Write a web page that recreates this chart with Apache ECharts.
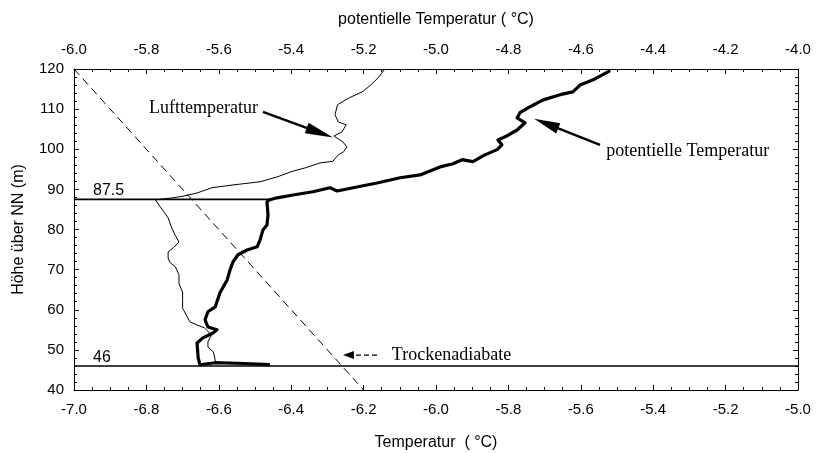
<!DOCTYPE html>
<html><head><meta charset="utf-8">
<script src="https://cdn.jsdelivr.net/npm/echarts@6/dist/echarts.min.js"></script>
<style>html,body{margin:0;padding:0;background:#fff}#c{width:816px;height:453px}</style>
</head><body><div id="c"></div>
<script>
// Lufttemperatur: [Temperatur °C (bottom axis), Höhe m]
const lufttemperatur = [[-6.61,46.5],[-6.61,47.5],[-6.615,49.5],[-6.63,50.7],[-6.63,52],[-6.62,53.7],[-6.64,55.5],[-6.66,56.2],[-6.68,57],[-6.69,58.7],[-6.70,60.4],[-6.70,62.5],[-6.70,64.4],[-6.71,66.5],[-6.71,68.7],[-6.72,70.7],[-6.735,71.8],[-6.74,72.9],[-6.74,74.4],[-6.725,75.5],[-6.71,76.9],[-6.72,78.5],[-6.73,80.4],[-6.74,82.9],[-6.75,84.2],[-6.76,85.4],[-6.775,87.4],[-6.727,87.9],[-6.699,88.3],[-6.66,89.1],[-6.62,90.4],[-6.561,91.1],[-6.486,91.9],[-6.439,93.1],[-6.40,94.4],[-6.36,95.4],[-6.320,96.6],[-6.285,97.0],[-6.27,98.6],[-6.255,99.4],[-6.246,100.6],[-6.257,101.8],[-6.282,103.3],[-6.26,104.3],[-6.248,106.1],[-6.27,106.8],[-6.279,108.6],[-6.272,111.1],[-6.24,112.8],[-6.204,114.3],[-6.18,116],[-6.158,118],[-6.143,119.8]];
// potentielle Temperatur: [potentielle Temperatur °C (top axis), Höhe m]
const potTemperatur = [[-5.459,46.3],[-5.53,46.6],[-5.61,46.8],[-5.652,46.3],[-5.657,48],[-5.660,51.7],[-5.644,53],[-5.616,54.2],[-5.605,55],[-5.630,55.7],[-5.638,57.5],[-5.630,59.5],[-5.610,60.7],[-5.597,64.2],[-5.577,67.4],[-5.569,69.9],[-5.561,71.9],[-5.547,73.7],[-5.522,74.9],[-5.494,75.7],[-5.486,77.4],[-5.478,79.9],[-5.467,81.1],[-5.464,83.6],[-5.467,86.9],[-5.459,87.4],[-5.439,87.9],[-5.395,88.6],[-5.340,89.4],[-5.293,90.4],[-5.273,89.6],[-5.229,90.4],[-5.163,91.6],[-5.099,92.9],[-5.044,93.6],[-4.989,95.6],[-4.953,96.4],[-4.928,97.4],[-4.898,96.9],[-4.865,98.6],[-4.831,99.9],[-4.818,101.1],[-4.829,102.3],[-4.809,103.1],[-4.776,104.8],[-4.754,106.6],[-4.776,107.8],[-4.768,109.1],[-4.740,110.6],[-4.704,112.3],[-4.657,113.6],[-4.622,114.3],[-4.602,116],[-4.566,117.3],[-4.539,118.6],[-4.519,119.6]];
// Trockenadiabate (bottom axis)
const trockenadiabate = [[-7.0,120],[-6.2,40]];
// reference levels
const level87 = [[-7.0,87.5],[-6.46,87.5]];
const level46 = [[-7.0,46],[-5.0,46]];
// axis ranges
const xBottom = {min:-7.0, max:-5.0, step:0.2};
const xTop = {min:-6.0, max:-4.0, step:0.2};
const yRange = {min:40, max:120, step:10};
// annotations (data coordinates on bottom axis)
const annoTexts = [
  {text:'Lufttemperatur', x:-6.492, y:110.3, align:'right', serif:true},
  {text:'potentielle Temperatur', x:-5.530, y:99.6, align:'left', serif:true},
  {text:'Trockenadiabate', x:-6.122, y:48.7, align:'left', serif:true},
  {text:'87.5', x:-6.9475, y:89.8, align:'left', serif:false},
  {text:'46', x:-6.9475, y:48.1, align:'left', serif:false}
];
const annoArrows = [
  {from:[-6.478,109.3], to:[-6.2845,102.9], dashed:false, len:28, hw:5.5},
  {from:[-5.547,101.1], to:[-5.729,107.6], dashed:false, len:26, hw:5.5},
  {from:[-6.163,48.7], to:[-6.257,48.7], dashed:true, len:11, hw:4}
];

const SANS = '"Liberation Sans", Arial, sans-serif';
const SERIF = '"Liberation Serif", "Times New Roman", serif';
const chart = echarts.init(document.getElementById('c'), null, {renderer:'canvas'});

function xAxisCfg(r, pos, name, gap){
  return {type:'value', position:pos, min:r.min, max:r.max, interval:r.step,
    name:name, nameLocation:'middle', nameGap:gap,
    nameTextStyle:{fontFamily:SANS, fontSize:16, color:'#000'},
    axisLine:{show:true, onZero:false, lineStyle:{color:'#000', width:1}},
    axisTick:{show:true, inside:true, length:5, lineStyle:{color:'#000'}},
    minorTick:{show:true, splitNumber:4, length:3, lineStyle:{color:'#000'}},
    axisLabel:{formatter:v=>v.toFixed(1), fontFamily:SANS, fontSize:15, color:'#000', margin:12, showMinLabel:true, showMaxLabel:true},
    splitLine:{show:false}, minorSplitLine:{show:false}};
}
function yAxisCfg(pos, labels){
  return {type:'value', position:pos, min:yRange.min, max:yRange.max, interval:yRange.step,
    name: labels ? 'Höhe über NN (m)' : '', nameLocation:'middle', nameGap:47, nameRotate:90,
    nameTextStyle:{fontFamily:SANS, fontSize:16, color:'#000'},
    axisLine:{show:true, onZero:false, lineStyle:{color:'#000', width:1}},
    axisTick:{show:true, inside:true, length:5, lineStyle:{color:'#000'}},
    minorTick:{show:true, splitNumber:5, length:3, lineStyle:{color:'#000'}},
    axisLabel:{show:labels, fontFamily:SANS, fontSize:15, color:'#000', margin:10},
    splitLine:{show:false}};
}

chart.setOption({
  animation:false,
  backgroundColor:'#fff',
  grid:{left:74, right:18, top:69, bottom:63, containLabel:false, outerBoundsMode:'none'},
  xAxis:[xAxisCfg(xBottom,'bottom','Temperatur  ( °C)',45), xAxisCfg(xTop,'top','potentielle Temperatur ( °C)',41)],
  yAxis:[yAxisCfg('left',true), yAxisCfg('right',false)],
  series:[
    {type:'line', xAxisIndex:0, yAxisIndex:0, data:level46, symbol:'none', lineStyle:{color:'#000', width:1.5}, z:2},
    {type:'line', xAxisIndex:0, yAxisIndex:0, data:level87, symbol:'none', lineStyle:{color:'#000', width:1.8}, z:2},
    {type:'line', xAxisIndex:0, yAxisIndex:0, data:trockenadiabate, symbol:'none', lineStyle:{color:'#000', width:1, type:[8,5]}, z:3},
    {type:'line', xAxisIndex:0, yAxisIndex:0, data:lufttemperatur, symbol:'none', lineStyle:{color:'#000', width:1}, z:4},
    {type:'line', xAxisIndex:1, yAxisIndex:0, data:potTemperatur, symbol:'none', lineStyle:{color:'#000', width:3.2, join:'round'}, z:5}
  ]
});

const g = [];
annoTexts.forEach(a=>{
  const p = chart.convertToPixel({xAxisIndex:0, yAxisIndex:0}, [a.x, a.y]);
  g.push({type:'text', x:p[0], y:p[1], z:10, style:{text:a.text, fill:'#000',
    font: (a.serif ? '18px ' + SERIF : '16px ' + SANS), align:a.align, verticalAlign:'middle'}});
});
annoArrows.forEach(a=>{
  const p1 = chart.convertToPixel({xAxisIndex:0, yAxisIndex:0}, a.from);
  const p2 = chart.convertToPixel({xAxisIndex:0, yAxisIndex:0}, a.to);
  const dx = p2[0]-p1[0], dy = p2[1]-p1[1], L = Math.hypot(dx,dy);
  const ux = dx/L, uy = dy/L;
  const bx = p2[0]-ux*a.len, by = p2[1]-uy*a.len;
  g.push({type:'line', z:10, shape:{x1:p1[0], y1:p1[1], x2:bx+ux*2, y2:by+uy*2},
    style:{stroke:'#000', lineWidth: a.dashed ? 1.2 : 2.5, lineDash: a.dashed ? [5,3] : null}});
  g.push({type:'polygon', z:10, shape:{points:[[p2[0],p2[1]],[bx - uy*a.hw, by + ux*a.hw],[bx + uy*a.hw, by - ux*a.hw]]},
    style:{fill:'#000'}});
});
chart.setOption({graphic:g});
</script></body></html>
